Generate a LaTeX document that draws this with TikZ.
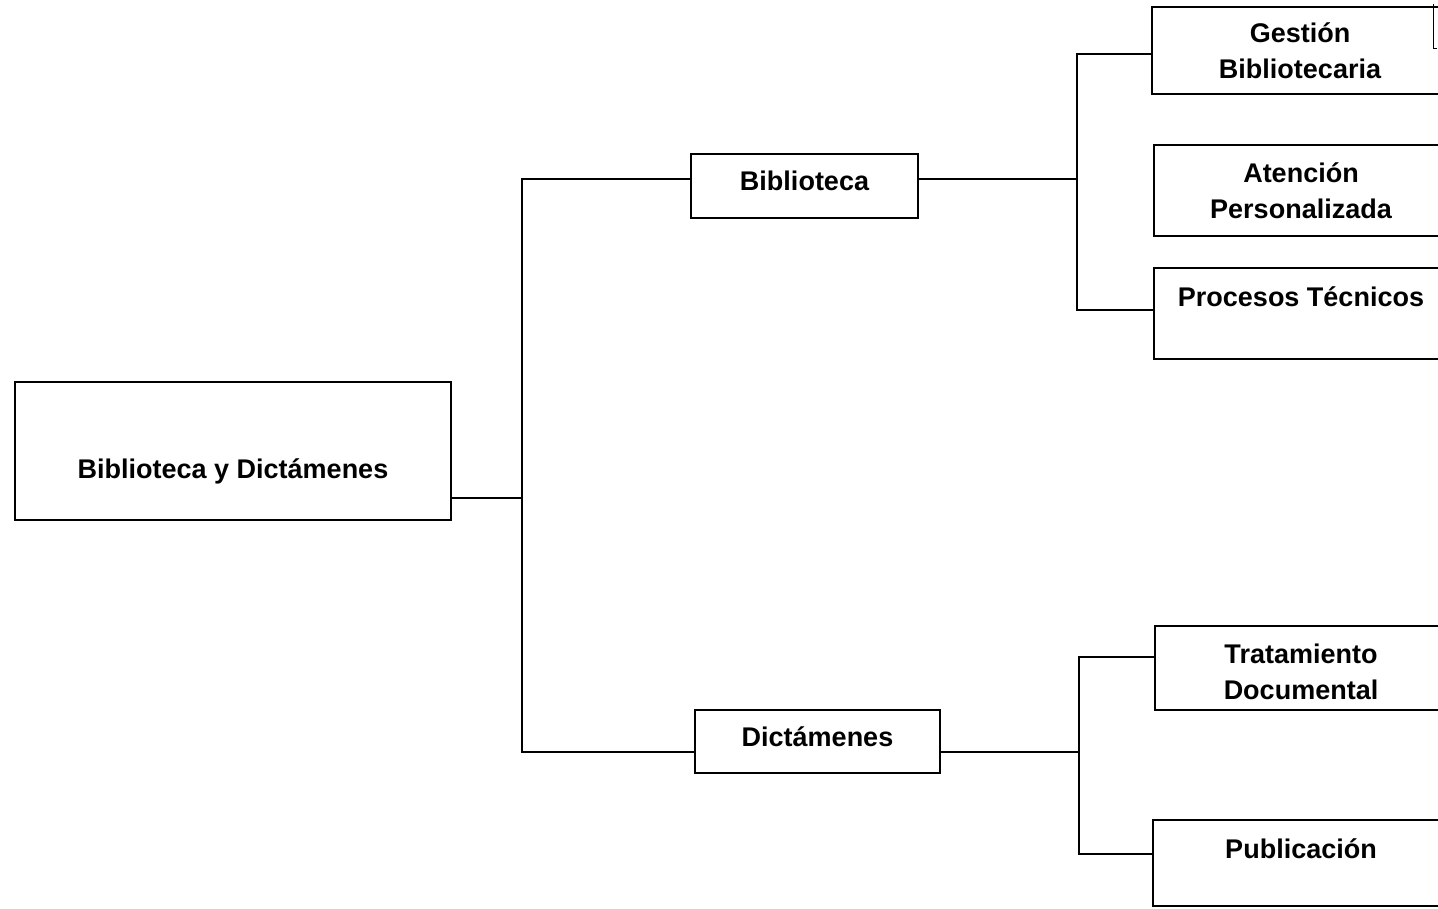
\documentclass[tikz,border=0pt]{standalone}
\usepackage{fontspec}
\setmainfont{Liberation Sans}
\begin{document}
\begin{tikzpicture}[x=1pt,y=-1pt,
  box/.style={draw=black,line width=2.2pt,rectangle,inner sep=0pt,align=center,
    font=\bfseries\fontsize{27}{36}\selectfont},
  conn/.style={draw=black,line width=2.2pt,line cap=rect}]
\useasboundingbox (0,0) rectangle (1438,908);
\clip (0,0) rectangle (1438,908);
\fill[white] (0,0) rectangle (1438,908);
% nodes
\node[box,minimum width=436pt,minimum height=138pt] (root) at (233,451) {\strut\\Biblioteca y Dictámenes};
\node[box,minimum width=227pt,minimum height=64pt,text depth=10pt] (bib) at (804.5,186) {Biblioteca};
\node[box,minimum width=245pt,minimum height=63pt,text depth=10pt] (dict) at (817.5,741.5) {Dictámenes};
\node[box,minimum width=296pt,minimum height=87pt] (ges) at (1300,50.5) {Gestión\\Bibliotecaria};
\node[box,minimum width=294pt,minimum height=91pt] (ate) at (1301,190.5) {Atención\\Personalizada};
\node[box,minimum width=294pt,minimum height=91pt] (pro) at (1301,313.5) {Procesos Técnicos\\[-12pt]\strut};
\node[box,minimum width=292pt,minimum height=84pt] (tra) at (1301,668) {\rule{0pt}{28pt}Tratamiento\\Documental};
\node[box,minimum width=296pt,minimum height=86pt] (pub) at (1301,863) {Publicación\\[-17pt]\strut};
% junctions
\coordinate (t0) at (522,498);
\coordinate (t1) at (522,179);
\coordinate (t2) at (522,752);
\coordinate (b0) at (1077,179);
\coordinate (b1) at (1077,54);
\coordinate (b2) at (1077,310);
\coordinate (d0) at (1079,752);
\coordinate (d1) at (1079,657);
\coordinate (d2) at (1079,854);
% connectors
\draw[conn] (t0 -| root.east) -- (t0);
\draw[conn] (t1) -- (t2);
\draw[conn] (t1) -- (t1 -| bib.west);
\draw[conn] (t2) -- (t2 -| dict.west);
\draw[conn] (t1 -| bib.east) -- (b0);
\draw[conn] (b1) -- (b2);
\draw[conn] (b1) -- (b1 -| ges.west);
\draw[conn] (b2) -- (b2 -| pro.west);
\draw[conn] (d0 -| dict.east) -- (d0);
\draw[conn] (d1) -- (d2);
\draw[conn] (d1) -- (d1 -| tra.west);
\draw[conn] (d2) -- (d2 -| pub.west);
% small mark at top right edge
\coordinate (m1) at (1433,4);
\coordinate (m2) at (1433,48);
\draw[line width=1pt] (m1) -- (m2) -- ++(4,0);
\end{tikzpicture}
\end{document}
